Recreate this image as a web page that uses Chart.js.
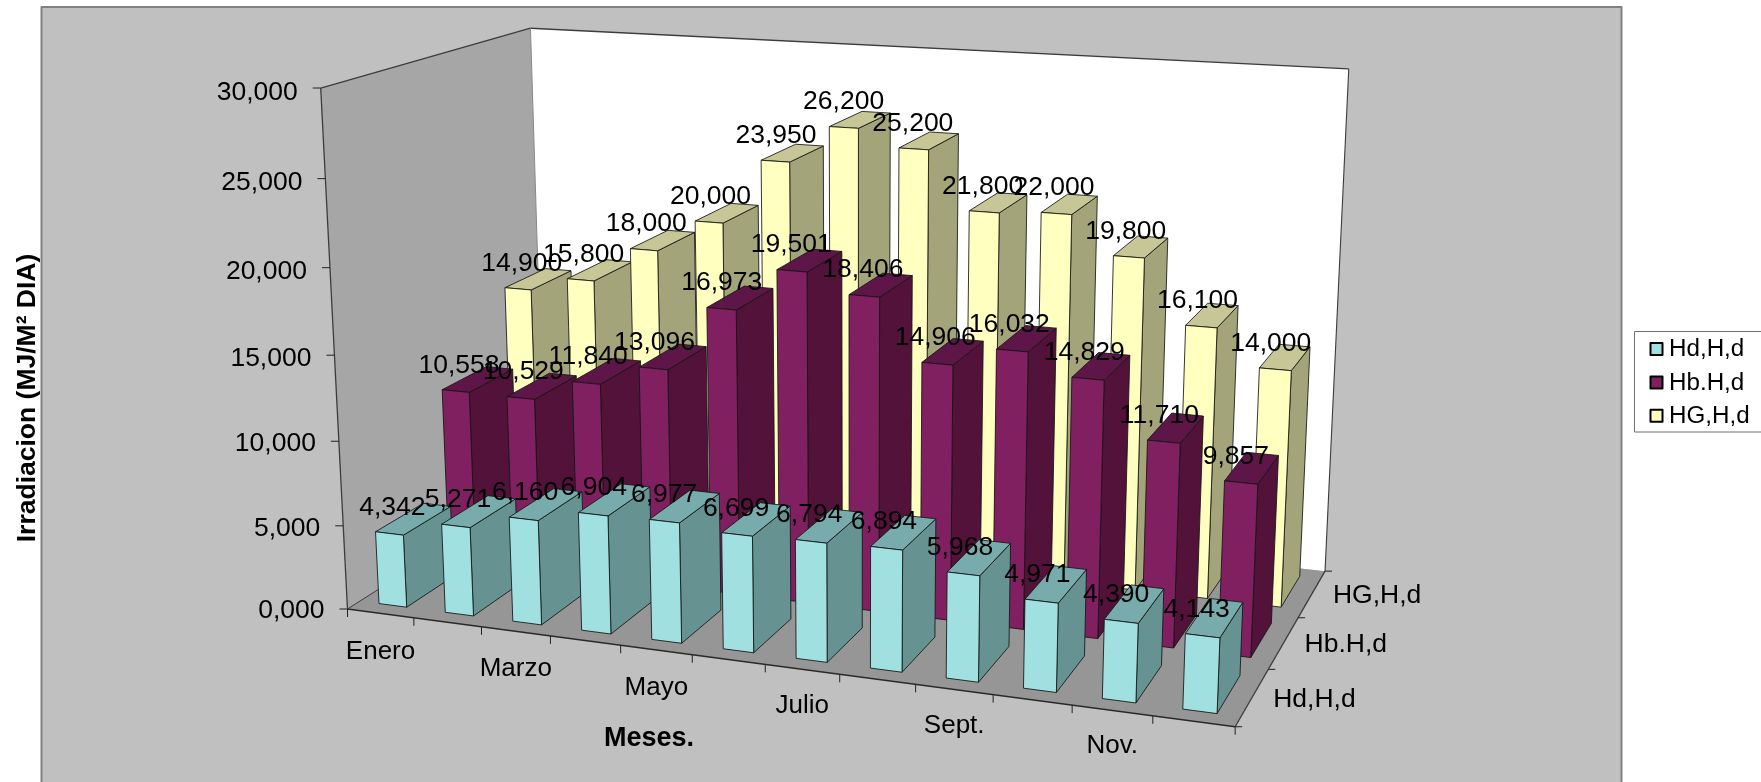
<!DOCTYPE html>
<html>
<head>
<meta charset="utf-8">
<title>Irradiacion</title>
<script src="https://cdn.jsdelivr.net/npm/chart.js@4"></script>
<style>
  html, body { margin: 0; padding: 0; background: #fff; }
  canvas { display: block; }
</style>
</head>
<body>
<canvas id="chart" width="1761" height="782"></canvas>
<script>
// Monthly daily irradiation per component
const months = ['Enero','Febrero','Marzo','Abril','Mayo','Junio','Julio','Agosto','Sept.','Oct.','Nov.','Dic.'];
const hdValues = [4.342,5.271,6.160,6.904,6.977,6.699,6.794,6.894,5.968,4.971,4.390,4.143];
const hbValues = [10.558,10.529,11.840,13.096,16.973,19.501,18.406,14.906,16.032,14.829,11.710,9.857];
const hgValues = [14.900,15.800,18.000,20.000,23.950,26.200,25.200,21.800,22.000,19.800,16.100,14.000];
const seriesNames = ['Hd,H,d','Hb.H,d','HG,H,d'];
const depthNames = ['Hd,H,d','Hb.H,d','HG,H,d'];
const yAxisTitle = 'Irradiacion (MJ/M\u00B2 DIA)';
const xAxisTitle = 'Meses.';

// Face shades for each series: front, side, top
const shades = [
  { front: '#A0E0E0', side: '#669292', top: '#78ACAC' },
  { front: '#802060', side: '#52123A', top: '#5E1648' },
  { front: '#FFFFC0', side: '#A4A47A', top: '#C6C696' }
];

// Perspective of the chart box: origin corner, three vanishing points and their weights
const box = {
  origin: [347.5, 609],
  xVanish: [-6769, -335], xWeight: -0.1109,
  zVanish: [1857, -350],  zWeight: 0.1502,
  vVanish: [856, 10497],  vWeight: -0.05005
};

// Maps unit-cube coordinates (month axis, depth axis, value axis) to canvas pixels
function project(u, z, v) {
  const a = u * box.xWeight, b = z * box.zWeight, c = v * box.vWeight;
  const w = 1 + a + b + c;
  return [
    (box.origin[0] + a * box.xVanish[0] + b * box.zVanish[0] + c * box.vVanish[0]) / w,
    (box.origin[1] + a * box.xVanish[1] + b * box.zVanish[1] + c * box.vVanish[1]) / w
  ];
}

function poly(ctx, pts, fill, stroke, lineWidth) {
  ctx.beginPath();
  pts.forEach((p, i) => i ? ctx.lineTo(p[0], p[1]) : ctx.moveTo(p[0], p[1]));
  ctx.closePath();
  if (fill) { ctx.fillStyle = fill; ctx.fill(); }
  if (stroke) { ctx.strokeStyle = stroke; ctx.lineWidth = lineWidth || 1; ctx.stroke(); }
}

function line(ctx, a, b, color, width) {
  ctx.beginPath();
  ctx.moveTo(a[0], a[1]);
  ctx.lineTo(b[0], b[1]);
  ctx.strokeStyle = color;
  ctx.lineWidth = width || 1;
  ctx.stroke();
}

function text(ctx, str, x, y, font, align) {
  ctx.font = font;
  ctx.textAlign = align || 'center';
  ctx.textBaseline = 'middle';
  ctx.fillStyle = '#000';
  ctx.fillText(str, x, y);
}

const FONT = '"Liberation Sans", Arial, sans-serif';
const fmt = v => v.toFixed(3).replace('.', ',');
const BAR_EDGE = 'rgba(20,20,20,0.85)';

const scene3d = {
  id: 'scene3d',
  beforeDatasetsDraw(chart) {
    const ctx = chart.ctx;
    const xs = chart.scales.x, ys = chart.scales.y;
    ctx.save();
    ctx.lineJoin = 'round';

    // Chart panel
    ctx.fillStyle = '#C0C0C0';
    ctx.fillRect(41.5, 7, 1580, 790);
    ctx.strokeStyle = '#808080';
    ctx.lineWidth = 2;
    ctx.strokeRect(41.5, 7, 1580, 790);

    // Walls and floor
    const c = (u, z, v) => project(u, z, v);
    poly(ctx, [c(0,0,0), c(0,1,0), c(0,1,1), c(0,0,1)], '#A6A6A6');
    poly(ctx, [c(0,1,0), c(1,1,0), c(1,1,1), c(0,1,1)], '#FFFFFF');
    poly(ctx, [c(0,0,0), c(1,0,0), c(1,1,0), c(0,1,0)], '#969696');
    const edge = '#3C3C3C';
    line(ctx, c(0,0,0), c(0,0,1), edge, 1.3);
    line(ctx, c(0,0,1), c(0,1,1), edge, 1.3);
    line(ctx, c(0,1,1), c(1,1,1), edge, 1.3);
    line(ctx, c(1,1,1), c(1,1,0), edge, 1.1);
    line(ctx, c(0,1,0), c(0,1,1), '#888888', 1);
    line(ctx, c(0,0,0), c(1,0,0), '#2A2A2A', 1.6);
    line(ctx, c(1,0,0), c(1,1,0), edge, 1.3);
    line(ctx, c(0,0,0), c(0,1,0), edge, 1);

    // Value axis ticks and labels
    ys.ticks.forEach(t => {
      const v = ys.getDecimalForPixel(ys.getPixelForValue(t.value));
      const p = project(0, 0, v);
      line(ctx, [p[0] - 8, p[1]], p, '#222', 1);
      text(ctx, fmt(t.value), p[0] - 23, p[1] + 2 + 2.5 * v, '26.5px ' + FONT, 'right');
    });

    // Month axis ticks and alternating labels
    const step = 1 / months.length;
    for (let i = 0; i <= months.length; i++) {
      const p = project(i * step, 0, 0);
      line(ctx, p, [p[0], p[1] + 8], '#222', 1);
    }
    months.forEach((m, i) => {
      if (i % 2) return;
      const u = xs.getDecimalForPixel(xs.getPixelForValue(i));
      const p = project(u, 0, 0);
      text(ctx, m, p[0], p[1] + 38.5 - 3 * u, '26px ' + FONT);
    });

    // Depth axis ticks and labels
    depthNames.forEach((n, j) => {
      const p = project(1, (j + 0.5) / depthNames.length, 0);
      text(ctx, n, p[0] + 21, p[1] + 2, '26.5px ' + FONT, 'left');
    });
    for (let j = 0; j <= depthNames.length; j++) {
      const p = project(1, j / depthNames.length, 0);
      line(ctx, p, [p[0] + 7, p[1]], '#222', 1);
    }

    // Bars, rear series first and left to right inside a series
    const bars = chart.data.datasets.map((ds, j) => chart.getDatasetMeta(j).data.map((el, i) => {
      const half = el.width / 2;
      return {
        u0: xs.getDecimalForPixel(el.x - half),
        u1: xs.getDecimalForPixel(el.x + half),
        z0: (j + 1 / 6) / chart.data.datasets.length,
        z1: (j + 5 / 6) / chart.data.datasets.length,
        v: ys.getDecimalForPixel(el.y),
        label: fmt(ds.data[i])
      };
    }));
    for (let j = bars.length - 1; j >= 0; j--) {
      const s = shades[j];
      bars[j].forEach(b => {
        poly(ctx, [c(b.u1,b.z0,0), c(b.u1,b.z1,0), c(b.u1,b.z1,b.v), c(b.u1,b.z0,b.v)], s.side, BAR_EDGE, 1);
        poly(ctx, [c(b.u0,b.z0,b.v), c(b.u1,b.z0,b.v), c(b.u1,b.z1,b.v), c(b.u0,b.z1,b.v)], s.top, BAR_EDGE, 1);
        poly(ctx, [c(b.u0,b.z0,0), c(b.u1,b.z0,0), c(b.u1,b.z0,b.v), c(b.u0,b.z0,b.v)], s.front, BAR_EDGE, 1);
      });
    }

    // Value labels sit above the front-left corner of each bar
    for (let j = bars.length - 1; j >= 0; j--) {
      bars[j].forEach(b => {
        const p = c(b.u0, b.z0, b.v);
        text(ctx, b.label, p[0] + 17 - 6 * b.u0, p[1] - 24.5, '26.5px ' + FONT);
      });
    }

    // Axis titles
    text(ctx, xAxisTitle, 649, 739, 'bold 27px ' + FONT);
    ctx.save();
    ctx.translate(28, 398);
    ctx.rotate(-Math.PI / 2);
    text(ctx, yAxisTitle, 0, 0, 'bold 26.5px ' + FONT);
    ctx.restore();

    // Legend
    ctx.fillStyle = '#FFFFFF';
    ctx.fillRect(1634.5, 331.5, 130, 100.5);
    ctx.strokeStyle = '#707070';
    ctx.lineWidth = 1;
    ctx.strokeRect(1634.5, 331.5, 130, 100.5);
    chart.data.datasets.forEach((ds, j) => {
      const y = 349 + j * 33.4;
      ctx.fillStyle = ds.backgroundColor;
      ctx.fillRect(1650.5, y - 6, 12, 12);
      ctx.strokeStyle = '#000';
      ctx.lineWidth = 2;
      ctx.strokeRect(1650.5, y - 6, 12, 12);
      text(ctx, ds.label, 1669, y + 0.5, '24.2px ' + FONT, 'left');
    });

    ctx.restore();
    return false; // the flat bars are replaced by the boxes drawn above
  }
};

new Chart(document.getElementById('chart'), {
  type: 'bar',
  data: {
    labels: months,
    datasets: [
      { label: seriesNames[0], data: hdValues, backgroundColor: shades[0].front },
      { label: seriesNames[1], data: hbValues, backgroundColor: shades[1].front },
      { label: seriesNames[2], data: hgValues, backgroundColor: shades[2].front }
    ]
  },
  options: {
    responsive: false,
    animation: false,
    layout: { padding: 0 },
    grouped: false,
    categoryPercentage: 1,
    barPercentage: 0.42,
    plugins: { legend: { display: false }, tooltip: { enabled: false }, title: { display: false } },
    scales: {
      x: { type: 'category', display: false, offset: true },
      y: { type: 'linear', display: false, min: 0, max: 30, ticks: { stepSize: 5 } }
    }
  },
  plugins: [scene3d]
});
</script>
</body>
</html>
